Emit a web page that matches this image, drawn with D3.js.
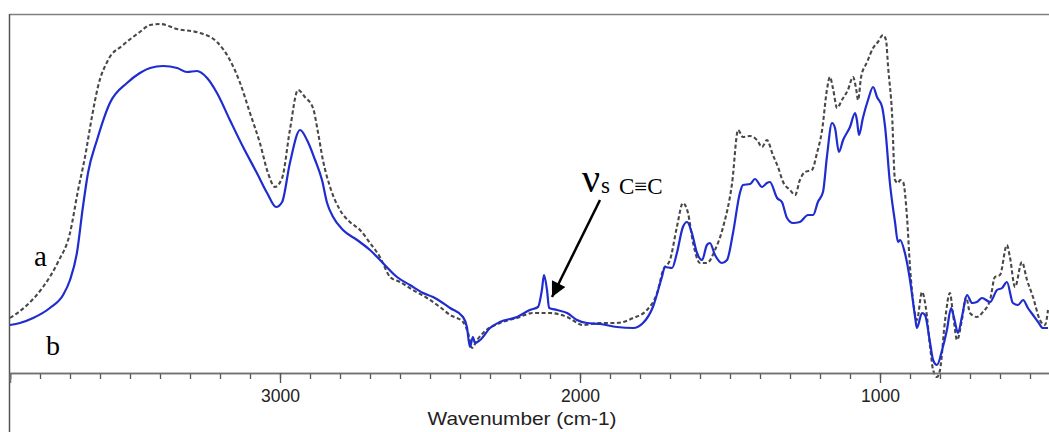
<!DOCTYPE html>
<html>
<head>
<meta charset="utf-8">
<script src="https://cdn.jsdelivr.net/npm/d3@7"></script>
<style>
  html, body { margin: 0; padding: 0; background: #fff; }
  svg { display: block; }
</style>
</head>
<body>
<svg id="chart" width="1049" height="432"></svg>
<script>
// ---- Data (wavenumber in cm-1, absorbance in arbitrary units) ----
const waveA = [3900,3843,3790,3740,3700,3673,3650,3627,3607,3573,3523,3467,3433,3400,3343,3267,3210,3167,3133,3100,3067,3040,3017,2993,2967,2940,2917,2890,2873,2857,2833,2800,2767,2733,2700,2667,2633,2600,2557,2510,2467,2433,2390,2373,2360,2343,2323,2267,2210,2157,2100,2043,1990,1933,1877,1823,1777,1743,1723,1700,1677,1657,1640,1623,1600,1577,1550,1523,1493,1473,1457,1433,1410,1393,1377,1357,1340,1323,1300,1283,1267,1250,1227,1210,1193,1177,1167,1157,1143,1127,1107,1090,1080,1073,1063,1043,1023,1007,990,980,973,960,950,940,933,923,910,900,887,877,860,847,833,823,810,800,783,767,757,743,727,713,700,677,657,633,617,600,577,567,550,527,510,490,467,450,440];
const absA  = [27.5,34,43,55.5,70,91.5,108,128,143,156.5,164,170.5,174,174.5,172,170,165.5,156.5,145,130,115,100,93,97.5,121.5,141.5,138,132.5,120,106.5,93,81.5,75.5,71.5,65,58,48,45.5,41.5,37.5,33,29,25.5,20,12.5,16.5,20,25,27.5,30,30,28,24,25,25,27.5,31.5,40,51.5,56.5,73,85,80,65,55,55,61.5,73,95,121.5,118,118.5,116.5,113,116.5,109,103,95.5,91.5,89,96.5,100.5,101.5,110,121.5,141.5,148,142.5,132.5,136.5,141.5,148,142.5,136.5,148,155.5,162.5,165.5,169,166.5,153,130,96.5,95,96.5,95.5,78,53,33,26.5,40.5,32.5,13,1.5,-2,1.5,26.5,40,30,16.5,26.5,38,30,28,30.5,36.5,48,49,64,58,43,55.5,46.5,38,26.5,24,31.5];

const waveB = [3900,3867,3823,3767,3723,3700,3677,3657,3640,3610,3567,3510,3467,3433,3390,3343,3310,3277,3243,3210,3167,3123,3077,3043,3013,2993,2967,2933,2910,2883,2860,2843,2823,2790,2743,2700,2657,2610,2567,2523,2490,2457,2433,2390,2377,2367,2357,2350,2333,2300,2267,2210,2167,2140,2127,2120,2110,2103,2077,2043,2010,1977,1933,1877,1823,1790,1757,1727,1717,1693,1677,1657,1643,1627,1610,1593,1577,1567,1550,1527,1510,1490,1467,1457,1433,1417,1393,1377,1367,1343,1327,1310,1290,1267,1240,1223,1207,1190,1177,1160,1150,1137,1123,1100,1083,1077,1070,1057,1040,1023,1010,993,983,967,950,940,933,917,900,883,877,860,850,833,823,810,793,777,763,753,740,727,710,693,677,660,633,610,593,577,557,540,523,507,490,473,457,440];
const absB  = [24,25,27.5,32.5,39,46.5,60,83,100,116.5,135,145,150,152.5,153.5,152.5,150.5,151,147.5,140,126.5,113,100,90,83,85.5,105,121.5,116.5,106.5,96.5,85,78,71.5,66.5,61.5,55,48,44,40,38,35,32.5,28,23,13,18,15,16.5,22.5,25.5,28,31.5,33,41.5,49,41.5,32.5,31.5,30,26.5,25,24.5,23,22.5,25,33,48,53,52.5,60,73,75.5,70,60,56.5,64,65,59,55,56.5,70,90,94,94.5,97,93,95,95.5,87.5,85.5,77.5,75,75.5,79,79,85.5,90.5,108,125,122.5,110.5,116.5,123,130,126.5,119,127.5,136.5,143,138,133,123,95,75.5,65.5,66.5,60,46.5,28,22.5,30,29,15,6.5,4,11.5,21.5,32.5,27.5,20,28,39,35,35.5,37.5,35.5,41.5,42.5,45.5,35,34,36.5,32.5,29,25.5,22.5,22.5];

const minorTicks = d3.range(3900, 399, -100);
const majorTicks = [3000, 2000, 1000];
const xTitle = "Wavenumber (cm-1)";
const seriesLabels = ["a", "b"];

// ---- Layout ----
const svg = d3.select("#chart");
const x = d3.scaleLinear().domain([3900, 400]).range([10, 1060]);
const y = d3.scaleLinear().domain([0, 179]).range([373, 15]);

// frame (top and left)
svg.append("line").attr("x1", 9.5).attr("x2", 1049).attr("y1", 14.5).attr("y2", 14.5)
  .attr("stroke", "#808080").attr("stroke-width", 1.5);
svg.append("line").attr("x1", 9.5).attr("x2", 9.5).attr("y1", 14).attr("y2", 432)
  .attr("stroke", "#555").attr("stroke-width", 1.5);

// curves
const line = d3.line().x(d => x(d[0])).y(d => y(d[1])).curve(d3.curveMonotoneX);
const dataA = waveA.map((w, i) => [w, absA[i]]);
const dataB = waveB.map((w, i) => [w, absB[i]]);

svg.append("path").datum(dataA).attr("d", line)
  .attr("fill", "none").attr("stroke", "#484848").attr("stroke-width", 2.1)
  .attr("stroke-dasharray", "4,2.5");
svg.append("path").datum(dataB).attr("d", line)
  .attr("fill", "none").attr("stroke", "#1f2ccf").attr("stroke-width", 2.2);

// x axis
const gMinor = svg.append("g").attr("transform", "translate(0,373)")
  .call(d3.axisBottom(x).tickValues(minorTicks).tickSize(6).tickFormat(""));
const gMajor = svg.append("g").attr("transform", "translate(0,373)")
  .call(d3.axisBottom(x).tickValues(majorTicks).tickSize(10).tickPadding(6).tickFormat(d3.format("d")));
[gMinor, gMajor].forEach(g => {
  g.select(".domain").attr("stroke", "#707070").attr("stroke-width", 1.6);
  g.selectAll(".tick line").attr("stroke", "#555").attr("stroke-width", 1.3);
});
gMajor.selectAll(".tick text")
  .attr("font-family", "Liberation Sans, Arial, sans-serif")
  .attr("font-size", 19).attr("fill", "#222")
  .attr("textLength", 39).attr("lengthAdjust", "spacingAndGlyphs");

svg.append("text").attr("x", 522).attr("y", 425).attr("text-anchor", "middle")
  .attr("font-family", "Liberation Sans, Arial, sans-serif").attr("font-size", 19)
  .attr("fill", "#222").attr("textLength", 189).attr("lengthAdjust", "spacingAndGlyphs")
  .text(xTitle);

// series labels
const serif = "Liberation Serif, Times New Roman, serif";
svg.append("text").attr("x", 34).attr("y", 266).attr("font-family", serif)
  .attr("font-size", 29).attr("fill", "#000").text(seriesLabels[0]);
svg.append("text").attr("x", 46).attr("y", 355).attr("font-family", serif)
  .attr("font-size", 28).attr("fill", "#000").text(seriesLabels[1]);

// annotation
svg.append("text").attr("x", 582).attr("y", 192).attr("font-family", serif)
  .attr("font-size", 40).attr("fill", "#000").text("ν");
svg.append("text").attr("x", 601).attr("y", 193).attr("font-family", serif)
  .attr("font-size", 23).attr("fill", "#000").text("s");
svg.append("text").attr("x", 619).attr("y", 194).attr("font-family", serif)
  .attr("font-size", 23).attr("fill", "#000").text("C≡C");

// arrow
const defs = svg.append("defs");
defs.append("marker").attr("id", "ah").attr("viewBox", "0 0 10 10")
  .attr("refX", 10).attr("refY", 5).attr("markerWidth", 6.5).attr("markerHeight", 6)
  .attr("markerUnits", "strokeWidth").attr("orient", "auto")
  .append("path").attr("d", "M0,0 L10,5 L0,10 Z").attr("fill", "#000");
svg.append("line").attr("x1", 600).attr("y1", 200).attr("x2", 552).attr("y2", 297)
  .attr("stroke", "#000").attr("stroke-width", 2.5).attr("marker-end", "url(#ah)");
</script>
</body>
</html>
